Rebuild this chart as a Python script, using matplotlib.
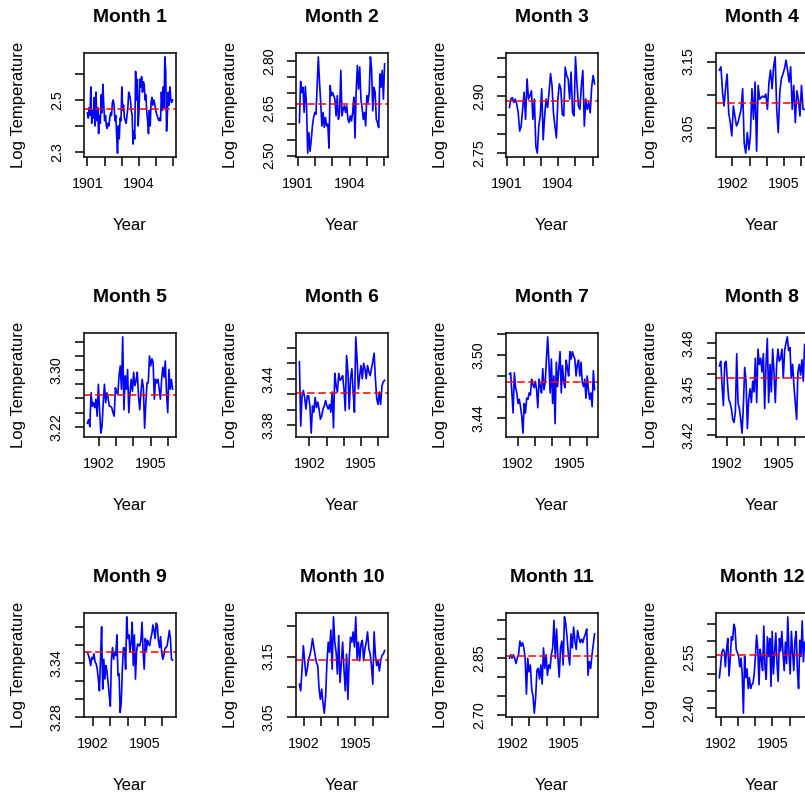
import matplotlib
matplotlib.use("Agg")
import matplotlib.pyplot as plt
import numpy as np

plt.rcParams['font.family'] = ['Liberation Sans', 'DejaVu Sans']

# log temperature series, one per calendar month
m1 = [2.45, 2.43, 2.47, 2.44, 2.55, 2.41, 2.46, 2.43, 2.51, 2.40,
      2.53, 2.42, 2.47, 2.37, 2.44, 2.41, 2.52, 2.45, 2.56, 2.48,
      2.42, 2.44, 2.40, 2.39, 2.41, 2.40, 2.43, 2.45, 2.44, 2.49,
      2.50, 2.48, 2.42, 2.44, 2.36, 2.295, 2.40, 2.35, 2.43, 2.42,
      2.55, 2.46, 2.48, 2.43, 2.42, 2.41, 2.44, 2.47, 2.53, 2.52,
      2.50, 2.46, 2.44, 2.33, 2.38, 2.35, 2.61, 2.50, 2.58, 2.40,
      2.46, 2.58, 2.55, 2.59, 2.53, 2.57, 2.56, 2.50, 2.52, 2.45,
      2.42, 2.37, 2.46, 2.40, 2.49, 2.51, 2.48, 2.50, 2.49, 2.47,
      2.45, 2.44, 2.43, 2.42, 2.43, 2.42, 2.53, 2.46, 2.55, 2.47,
      2.666, 2.61, 2.38, 2.45, 2.53, 2.48, 2.55, 2.50, 2.49, 2.50]
m2 = [2.605, 2.735, 2.70, 2.717, 2.637, 2.719, 2.66, 2.508, 2.573, 2.514,
      2.55, 2.594, 2.621, 2.637, 2.631, 2.722, 2.813, 2.733, 2.669, 2.594,
      2.637, 2.590, 2.621, 2.594, 2.60, 2.524, 2.722, 2.69, 2.70, 2.69,
      2.679, 2.626, 2.69, 2.615, 2.640, 2.770, 2.626, 2.647, 2.658, 2.637,
      2.658, 2.615, 2.605, 2.626, 2.610, 2.637, 2.685, 2.556, 2.706, 2.786,
      2.711, 2.781, 2.679, 2.650, 2.615, 2.637, 2.594, 2.69, 2.669, 2.70,
      2.813, 2.775, 2.642, 2.717, 2.700, 2.615, 2.605, 2.589, 2.759, 2.717,
      2.770, 2.679, 2.791]
m3 = [2.870, 2.892, 2.896, 2.883, 2.892, 2.879, 2.856, 2.808, 2.821, 2.865,
      2.910, 2.839, 2.945, 2.892, 2.901, 2.914, 2.839, 2.892, 2.768, 2.750,
      2.821, 2.848, 2.919, 2.785, 2.848, 2.892, 2.870, 2.910, 2.959, 2.928,
      2.856, 2.821, 2.790, 2.892, 2.932, 2.919, 2.852, 2.848, 2.976, 2.954,
      2.945, 2.892, 2.963, 2.856, 2.848, 3.003, 2.932, 2.874, 2.865, 2.928,
      2.967, 2.821, 2.892, 2.865, 2.883, 2.856, 2.923, 2.954, 2.932]
m4 = [3.137, 3.142, 3.104, 3.083, 3.111, 3.131, 3.073, 3.058, 3.038, 3.083,
      3.068, 3.053, 3.058, 3.068, 3.078, 3.109, 3.027, 3.012, 3.043, 3.017,
      3.038, 3.109, 3.063, 3.119, 3.015, 3.114, 3.093, 3.096, 3.098, 3.096,
      3.101, 3.078, 3.119, 3.137, 3.109, 3.142, 3.157, 3.078, 3.043, 3.104,
      3.124, 3.131, 3.139, 3.152, 3.137, 3.119, 3.142, 3.078, 3.114, 3.058,
      3.106, 3.093, 3.068, 3.114, 3.078, 3.078]
m5 = [3.225, 3.230, 3.220, 3.268, 3.249, 3.254, 3.247, 3.259, 3.235, 3.280,
      3.244, 3.211, 3.220, 3.254, 3.280, 3.254, 3.268, 3.261, 3.249, 3.249,
      3.247, 3.240, 3.235, 3.275, 3.268, 3.266, 3.292, 3.306, 3.273, 3.347,
      3.244, 3.292, 3.273, 3.301, 3.240, 3.268, 3.287, 3.270, 3.297, 3.278,
      3.285, 3.297, 3.263, 3.244, 3.268, 3.287, 3.275, 3.218, 3.254, 3.282,
      3.282, 3.320, 3.306, 3.316, 3.311, 3.259, 3.287, 3.282, 3.287, 3.273,
      3.259, 3.287, 3.304, 3.290, 3.313, 3.268, 3.240, 3.301, 3.273, 3.287,
      3.273]
m6 = [3.462, 3.379, 3.418, 3.425, 3.416, 3.401, 3.418, 3.418, 3.405, 3.370,
      3.405, 3.397, 3.416, 3.403, 3.410, 3.401, 3.388, 3.392, 3.401, 3.405,
      3.412, 3.405, 3.401, 3.407, 3.397, 3.423, 3.377, 3.447, 3.431, 3.423,
      3.447, 3.438, 3.440, 3.444, 3.427, 3.399, 3.470, 3.449, 3.401, 3.440,
      3.453, 3.423, 3.397, 3.494, 3.466, 3.427, 3.444, 3.457, 3.440, 3.460,
      3.453, 3.440, 3.457, 3.449, 3.444, 3.453, 3.462, 3.473, 3.440, 3.414,
      3.407, 3.423, 3.407, 3.431, 3.436, 3.438]
m7 = [3.482, 3.483, 3.464, 3.445, 3.483, 3.469, 3.464, 3.454, 3.458, 3.451,
      3.442, 3.426, 3.454, 3.445, 3.459, 3.458, 3.464, 3.462, 3.477, 3.472,
      3.469, 3.475, 3.467, 3.450, 3.477, 3.470, 3.464, 3.487, 3.467, 3.474,
      3.496, 3.517, 3.493, 3.464, 3.496, 3.454, 3.480, 3.435, 3.493, 3.470,
      3.487, 3.503, 3.464, 3.490, 3.474, 3.469, 3.495, 3.487, 3.480, 3.503,
      3.496, 3.503, 3.499, 3.496, 3.480, 3.491, 3.495, 3.480, 3.493, 3.474,
      3.470, 3.477, 3.459, 3.480, 3.467, 3.458, 3.464, 3.451, 3.485, 3.467]
m8 = [3.465, 3.468, 3.452, 3.439, 3.467, 3.468, 3.455, 3.443, 3.441, 3.437,
      3.430, 3.428, 3.435, 3.473, 3.441, 3.437, 3.430, 3.421, 3.439, 3.464,
      3.455, 3.424, 3.443, 3.450, 3.441, 3.455, 3.448, 3.470, 3.441, 3.476,
      3.466, 3.470, 3.461, 3.473, 3.437, 3.466, 3.483, 3.441, 3.466, 3.448,
      3.476, 3.461, 3.441, 3.466, 3.476, 3.468, 3.470, 3.476, 3.457, 3.475,
      3.480, 3.484, 3.475, 3.477, 3.457, 3.466, 3.452, 3.441, 3.430, 3.461,
      3.466, 3.459, 3.469, 3.455, 3.479]
m9 = [3.352, 3.348, 3.344, 3.337, 3.346, 3.344, 3.350, 3.341, 3.339, 3.333,
      3.322, 3.309, 3.344, 3.380, 3.311, 3.344, 3.322, 3.337, 3.330, 3.317,
      3.304, 3.292, 3.344, 3.357, 3.344, 3.352, 3.348, 3.371, 3.326, 3.328,
      3.285, 3.296, 3.333, 3.357, 3.356, 3.333, 3.391, 3.367, 3.371, 3.352,
      3.363, 3.385, 3.337, 3.371, 3.322, 3.352, 3.361, 3.359, 3.359, 3.365,
      3.385, 3.352, 3.333, 3.367, 3.354, 3.365, 3.361, 3.359, 3.367, 3.372,
      3.382, 3.376, 3.367, 3.384, 3.382, 3.365, 3.357, 3.369, 3.352, 3.344,
      3.348, 3.356, 3.357, 3.359, 3.367, 3.376, 3.367, 3.344, 3.343]
m10 = [3.104, 3.093, 3.129, 3.168, 3.143, 3.118, 3.129, 3.146, 3.152, 3.163,
       3.180, 3.166, 3.152, 3.140, 3.135, 3.096, 3.079, 3.096, 3.073, 3.056,
       3.084, 3.140, 3.174, 3.157, 3.194, 3.129, 3.216, 3.174, 3.157, 3.121,
       3.185, 3.107, 3.140, 3.174, 3.129, 3.093, 3.154, 3.079, 3.146, 3.182,
       3.174, 3.191, 3.166, 3.216, 3.146, 3.174, 3.143, 3.171, 3.177, 3.143,
       3.163, 3.174, 3.191, 3.163, 3.154, 3.135, 3.104, 3.191, 3.152, 3.135,
       3.143, 3.126, 3.143, 3.152, 3.154, 3.160]
m11 = [2.850, 2.859, 2.850, 2.859, 2.850, 2.836, 2.850, 2.859, 2.895, 2.882,
       2.891, 2.877, 2.850, 2.755, 2.850, 2.814, 2.832, 2.768, 2.750, 2.705,
       2.745, 2.818, 2.823, 2.795, 2.832, 2.782, 2.877, 2.823, 2.859, 2.805,
       2.832, 2.823, 2.859, 2.877, 2.950, 2.850, 2.927, 2.850, 2.800, 2.877,
       2.895, 2.832, 2.959, 2.941, 2.905, 2.859, 2.832, 2.914, 2.877, 2.932,
       2.895, 2.873, 2.923, 2.905, 2.891, 2.900, 2.891, 2.905, 2.914, 2.927,
       2.805, 2.841, 2.823, 2.859, 2.886, 2.914]
m12 = [2.490, 2.527, 2.564, 2.574, 2.569, 2.522, 2.574, 2.606, 2.495, 2.543,
       2.611, 2.601, 2.648, 2.637, 2.574, 2.564, 2.553, 2.522, 2.548, 2.501,
       2.385, 2.553, 2.490, 2.516, 2.458, 2.490, 2.458, 2.469, 2.474, 2.501,
       2.553, 2.616, 2.574, 2.469, 2.574, 2.543, 2.511, 2.643, 2.522, 2.485,
       2.611, 2.553, 2.606, 2.464, 2.627, 2.501, 2.564, 2.622, 2.532, 2.479,
       2.606, 2.569, 2.627, 2.564, 2.511, 2.595, 2.532, 2.670, 2.564, 2.501,
       2.627, 2.564, 2.511, 2.601, 2.627, 2.511, 2.458, 2.601, 2.553, 2.658,
       2.537, 2.595]
series = [m1, m2, m3, m4, m5, m6, m7, m8, m9, m10, m11, m12]

# long-run level drawn as the dashed reference line
month_means = [2.465, 2.665, 2.888, 3.088, 3.265, 3.422,
               3.474, 3.457, 3.352, 3.145, 2.856, 2.556]

# y ticks per panel; blank strings are ticks without a label
yticks = [
    [2.3, 2.4, 2.5, 2.6],
    [2.50, 2.55, 2.60, 2.65, 2.70, 2.75, 2.80],
    [2.75, 2.80, 2.85, 2.90, 2.95, 3.00],
    [3.05, 3.10, 3.15],
    [3.22, 3.24, 3.26, 3.28, 3.30, 3.32, 3.34],
    [3.38, 3.40, 3.42, 3.44, 3.46, 3.48],
    [3.44, 3.46, 3.48, 3.50, 3.52],
    [3.42, 3.43, 3.44, 3.45, 3.46, 3.47, 3.48],
    [3.28, 3.30, 3.32, 3.34, 3.36, 3.38],
    [3.05, 3.10, 3.15, 3.20],
    [2.70, 2.75, 2.80, 2.85, 2.90, 2.95],
    [2.40, 2.45, 2.50, 2.55, 2.60, 2.65],
]
ylabels = [
    ["2.3", "", "2.5", ""],
    ["2.50", "", "", "2.65", "", "", "2.80"],
    ["2.75", "", "", "2.90", "", ""],
    ["3.05", "", "3.15"],
    ["3.22", "", "", "", "3.30", "", ""],
    ["3.38", "", "", "3.44", "", ""],
    ["3.44", "", "", "3.50", ""],
    ["3.42", "", "", "3.45", "", "", "3.48"],
    ["3.28", "", "", "3.34", "", ""],
    ["3.05", "", "3.15", ""],
    ["2.70", "", "", "2.85", "", ""],
    ["2.40", "", "", "2.55", "", ""],
]

span_years = 4.95

W, H = 805, 797
fig = plt.figure(figsize=(W / 100, H / 100), dpi=100)
fig.patch.set_facecolor('white')

col_left = [84, 296, 506, 716]
row_top = [53, 333, 613]
ax_w, ax_h = 92, 104


def pad_range(lo, hi, frac=0.04):
    d = (hi - lo) * frac
    return lo - d, hi + d


for m in range(12):
    r, c = divmod(m, 4)
    left = col_left[c] / W
    bottom = 1 - (row_top[r] + ax_h) / H
    ax = fig.add_axes([left, bottom, ax_w / W, ax_h / H])

    vals = np.array(series[m])
    start = 1901 + m / 12
    years = np.linspace(start, start + span_years, len(vals))

    ax.plot(years, vals, color='#0000ff', lw=1.2)
    ax.axhline(month_means[m], color='#ff0000', lw=1.1, dashes=(5, 2.3))

    ax.set_xlim(*pad_range(years[0], years[-1]))
    ax.set_ylim(*pad_range(vals.min(), vals.max()))

    xt = np.arange(1901, 1908)
    xt = xt[(xt >= ax.get_xlim()[0]) & (xt <= ax.get_xlim()[1])]
    shown = {1901, 1904} if m < 3 else {1902, 1905}
    ax.set_xticks(xt, labels=[str(y) if y in shown else "" for y in xt])
    ax.set_yticks(yticks[m], labels=ylabels[m], rotation=90, va='center')

    ax.tick_params(direction='out', length=6.5, width=1.1, color='black',
                   labelsize=10.3, labelcolor='black')
    ax.tick_params(axis='x', pad=8)
    ax.tick_params(axis='y', pad=8)
    for s in ax.spines.values():
        s.set_linewidth(1.1)
        s.set_color('black')

    ax.set_xlabel('Year', fontsize=12, va='center')
    ax.xaxis.set_label_coords(0.5, -0.654)
    ax.set_ylabel('Log Temperature', fontsize=12, va='center')
    ax.yaxis.set_label_coords(-0.707, 0.5)
    ax.text(0.5, 1.337, f'Month {m + 1}', transform=ax.transAxes,
            ha='center', va='center', fontsize=13.9, fontweight='bold')

fig.savefig('out.png', dpi=100)
